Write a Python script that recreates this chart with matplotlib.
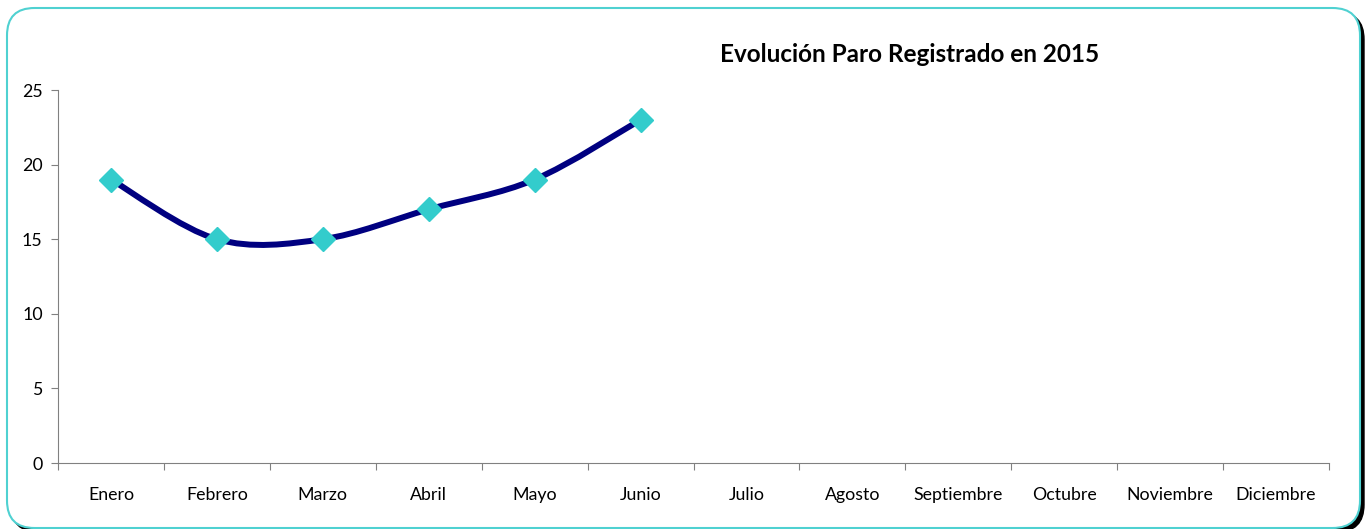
import numpy as np
import matplotlib.pyplot as plt
from matplotlib.patches import FancyBboxPatch, PathPatch
from matplotlib.path import Path

meses = ['Enero', 'Febrero', 'Marzo', 'Abril', 'Mayo', 'Junio', 'Julio',
         'Agosto', 'Septiembre', 'Octubre', 'Noviembre', 'Diciembre']
paro = [19, 15, 15, 17, 19, 23]
titulo = 'Evolución Paro Registrado en 2015'
yticks = [0, 5, 10, 15, 20, 25]

plt.rcParams['font.family'] = ['Lato', 'DejaVu Sans']

W, H = 1371, 529
fig = plt.figure(figsize=(W / 100, H / 100), dpi=100)

# marco redondeado con sombra
sombra = FancyBboxPatch((11 / W, -3 / H), 1353 / W, 520 / H,
                        boxstyle='round,pad=0,rounding_size=0.02',
                        transform=fig.transFigure, facecolor='black',
                        edgecolor='black', lw=1, mutation_aspect=W / H,
                        zorder=-2)
marco = FancyBboxPatch((7 / W, 1 / H), 1353 / W, 520 / H,
                       boxstyle='round,pad=0,rounding_size=0.02',
                       transform=fig.transFigure, facecolor='white',
                       edgecolor='#4FD1D1', lw=1.5, mutation_aspect=W / H,
                       zorder=-1)
fig.patches.extend([sombra, marco])

ax = fig.add_axes([58 / W, 1 - 463 / H, 1271 / W, 373 / H])
ax.set_facecolor('none')

x = np.arange(len(paro))
y = np.array(paro, dtype=float)

# curva suavizada (Bezier tipo Catmull-Rom, como Excel)
verts = [(x[0], y[0])]
codes = [Path.MOVETO]
n = len(x)
for i in range(n - 1):
    p0 = (x[max(i - 1, 0)], y[max(i - 1, 0)])
    p1 = (x[i], y[i])
    p2 = (x[i + 1], y[i + 1])
    p3 = (x[min(i + 2, n - 1)], y[min(i + 2, n - 1)])
    c1 = (p1[0] + (p2[0] - p0[0]) / 6, p1[1] + (p2[1] - p0[1]) / 6)
    c2 = (p2[0] - (p3[0] - p1[0]) / 6, p2[1] - (p3[1] - p1[1]) / 6)
    verts += [c1, c2, p2]
    codes += [Path.CURVE4] * 3
ax.add_patch(PathPatch(Path(verts, codes), facecolor='none',
                       edgecolor='#000080', lw=4.3, capstyle='round',
                       joinstyle='round', zorder=2))
ax.plot(x, y, linestyle='none', marker='D', markersize=12,
        markerfacecolor='#33CCCC', markeredgecolor='#33CCCC', zorder=3)

ax.set_xlim(-0.5, 11.5)
ax.set_ylim(0, 25)
ax.set_yticks(yticks)
ax.set_xticks(np.arange(-0.5, 12, 1))
ax.set_xticklabels([])
ax.set_xticks(np.arange(12), minor=True)
ax.set_xticklabels(meses, minor=True)
ax.tick_params(axis='x', which='minor', length=0, pad=17, labelsize=12.8)
ax.tick_params(axis='x', which='major', length=5, color='#808080')
ax.tick_params(axis='y', length=5, color='#808080', labelsize=12.8, pad=6)
for s in ['top', 'right']:
    ax.spines[s].set_visible(False)
for s in ['left', 'bottom']:
    ax.spines[s].set_color('#808080')

fig.text(910 / W, 1 - 55 / H, titulo, ha='center', va='center',
         fontsize=17.5, fontweight='bold')

fig.savefig('out.png', dpi=100)
